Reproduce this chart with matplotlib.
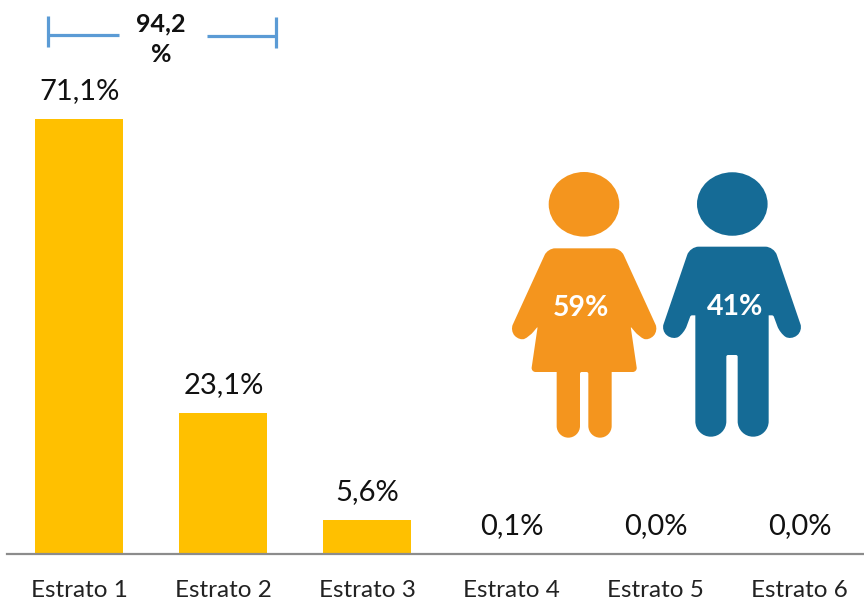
import matplotlib
matplotlib.use('Agg')
import matplotlib.pyplot as plt
from matplotlib.patches import Ellipse, PathPatch
from matplotlib.path import Path

plt.rcParams['font.family'] = ['Lato', 'DejaVu Sans']

W, H = 864, 600
BASE_Y = 554
PX_PER_PCT = 435 / 71.1

categories = ['Estrato 1', 'Estrato 2', 'Estrato 3', 'Estrato 4', 'Estrato 5', 'Estrato 6']
values = [71.1, 23.1, 5.6, 0.1, 0.0, 0.0]
value_labels = ['71,1%', '23,1%', '5,6%', '0,1%', '0,0%', '0,0%']
gender_labels = ['59%', '41%']

BAR_COLOR = '#FFC000'
AXIS_COLOR = '#8C8C8C'
BRACKET_COLOR = '#5B9BD5'
GIRL_COLOR = '#F4951E'
BOY_COLOR = '#156B96'

GIRL_RIGHT = [(392, 265, 22), (505, 512, 20), (476, 543, 30), (447, 530, 22), (422, 500, 4),
              (442, 636, 14), (365, 636, 0), (365, 833, 35), (295, 833, 35), (295, 636, 5)]
GIRL_AXIS = 282.5
BOY_RIGHT = [(852, 260, 26), (938, 512, 20), (903, 541, 30), (870, 520, 22), (850, 466, 4),
             (836, 466, 0), (836, 830, 46), (743, 830, 46), (743, 585, 5)]
BOY_AXIS = 726
KAPPA = 0.55


# polygon with corners rounded by cubic arcs
def rounded_path(pts):
    verts, codes = [], []
    n = len(pts)
    for i, (x, y, r) in enumerate(pts):
        px, py, _ = pts[i - 1]
        nx, ny, _ = pts[(i + 1) % n]
        d1 = ((px - x) ** 2 + (py - y) ** 2) ** 0.5
        d2 = ((nx - x) ** 2 + (ny - y) ** 2) ** 0.5
        r1 = min(r, d1 / 2)
        r2 = min(r, d2 / 2)
        a = (x + (px - x) * r1 / d1, y + (py - y) * r1 / d1)
        b = (x + (nx - x) * r2 / d2, y + (ny - y) * r2 / d2)
        c1 = (a[0] + (x - a[0]) * KAPPA, a[1] + (y - a[1]) * KAPPA)
        c2 = (b[0] + (x - b[0]) * KAPPA, b[1] + (y - b[1]) * KAPPA)
        verts += [a, c1, c2, b]
        codes += [Path.MOVETO if i == 0 else Path.LINETO, Path.CURVE4, Path.CURVE4, Path.CURVE4]
    verts.append(verts[0])
    codes.append(Path.CLOSEPOLY)
    return Path(verts, codes)


def mirrored(half, axis):
    left = [(2 * axis - x, y, r) for x, y, r in reversed(half)]
    return [(490 + x / 3, 160 + y / 3, r / 3) for x, y, r in half + left]


def draw_person(ov, half, axis, head, color, label, label_xy):
    ov.add_patch(PathPatch(rounded_path(mirrored(half, axis)), fc=color, ec='none'))
    ov.add_patch(Ellipse(head[:2], head[2], head[3], fc=color, ec='none'))
    ov.text(label_xy[0], label_xy[1], label, color='white', fontsize=20.5, fontweight='bold',
            ha='center', va='center')


fig = plt.figure(figsize=(W / 100, H / 100), dpi=100)

ax = fig.add_axes([7 / W, (H - BASE_Y) / H, (W - 7) / W, BASE_Y / H])
positions = list(range(len(categories)))
ax.bar(positions, values, width=88 / 144, color=BAR_COLOR)
ax.set_xlim((7 - 79.5) / 144, (W - 79.5) / 144)
ax.set_ylim(0, BASE_Y / PX_PER_PCT)
ax.set_xticks(positions)
ax.set_xticklabels(categories, fontsize=17.5, color='#222222')
ax.tick_params(axis='x', length=0, pad=18.5)
ax.set_yticks([])
for side in ['top', 'left', 'right']:
    ax.spines[side].set_visible(False)
ax.spines['bottom'].set_color(AXIS_COLOR)
ax.spines['bottom'].set_linewidth(1.6)
for p, v, lab in zip(positions, values, value_labels):
    ax.annotate(lab, (p, v), xytext=(0, 20), textcoords='offset points', ha='center', va='center',
                fontsize=21, color='#111111')

# overlay in pixel coordinates for the bracket and the figures
ov = fig.add_axes([0, 0, 1, 1])
ov.set_xlim(0, W)
ov.set_ylim(H, 0)
ov.axis('off')
ov.patch.set_alpha(0)

for xs, ys in [([47.5, 47.5], [16, 47]), ([47.5, 119], [35, 35]), ([207, 276], [36, 36]), ([276, 276], [17, 48])]:
    ov.plot(xs, ys, color=BRACKET_COLOR, lw=2.3, solid_capstyle='butt')
ov.text(161, 24, '94,2', fontsize=18, fontweight='bold', color='#111111', ha='center', va='center')
ov.text(161, 55, '%', fontsize=18, fontweight='bold', color='#111111', ha='center', va='center')

draw_person(ov, GIRL_RIGHT, GIRL_AXIS, (584, 204.3, 70.6, 64.6), GIRL_COLOR, gender_labels[0], (580.5, 308))
draw_person(ov, BOY_RIGHT, BOY_AXIS, (732.3, 204, 70.6, 63.5), BOY_COLOR, gender_labels[1], (735.5, 307))

fig.savefig('out.png', dpi=100)
